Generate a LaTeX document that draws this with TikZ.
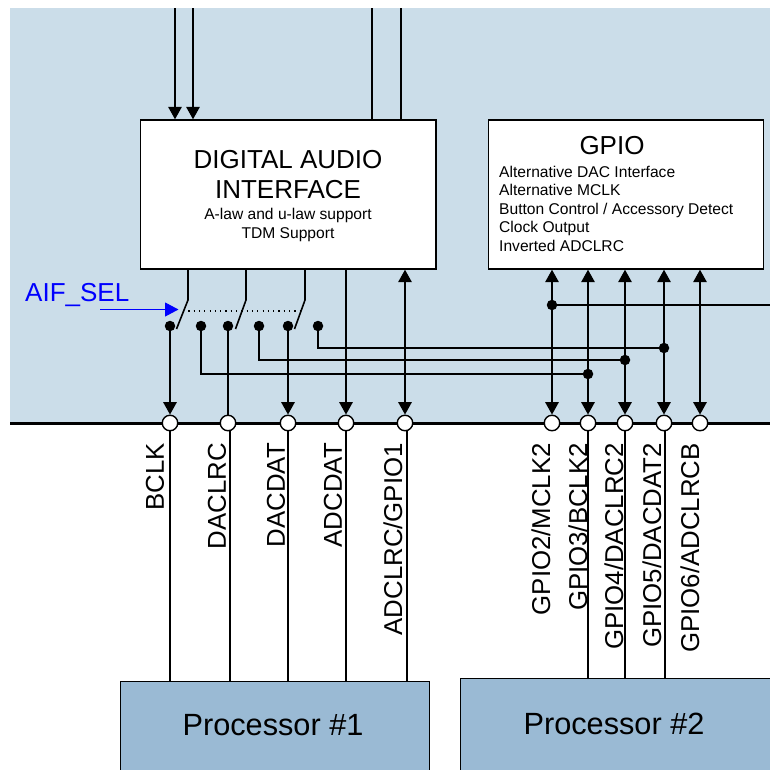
\documentclass[tikz,border=0pt]{standalone}
\usepackage{fontspec}
\setmainfont{Liberation Sans}
\usetikzlibrary{arrows.meta}
\definecolor{bgblue}{HTML}{CBDDE9}
\definecolor{procblue}{HTML}{9ABAD4}
\newcommand{\fs}[1]{\fontsize{#1pt}{#1pt}\selectfont}
\tikzset{
  wire/.style={line width=1.6pt,black},
  thinw/.style={line width=1.5pt,black},
  tip/.style={-{Triangle[length=12.5pt,width=13.5pt]}},
  tips/.style={{Triangle[length=12.5pt,width=13.5pt]}-{Triangle[length=12.5pt,width=13.5pt]}},
  blockbox/.style={draw=black,line width=1.4pt,fill=white,minimum height=149pt,inner sep=0pt},
  procbox/.style={draw=black,line width=1.3pt,fill=procblue,inner sep=0pt},
  pin/.style={circle,draw=black,line width=1.4pt,fill=white,minimum size=15.5pt,inner sep=0pt},
  dot/.style={circle,fill=black,minimum size=10.5pt,inner sep=0pt},
  pinlabel/.style={rotate=90,anchor=east,font=\fs{25.8},inner sep=0pt}
}
\begin{document}
\begin{tikzpicture}[x=1pt,y=-1pt]
\useasboundingbox (0,0) rectangle (770,769);
\fill[bgblue] (10,8) rectangle (770,423);
% blocks
\node[blockbox,minimum width=295.5pt] (dai) at (288.25,194.5) {};
\node[blockbox,minimum width=275pt] (gpio) at (626,194.5) {};
\node[font=\fs{26},align=center,inner sep=0pt] (daititle) at (288,175) {DIGITAL AUDIO\\[4pt]INTERFACE};
\node[font=\fs{15.6},align=center,inner sep=0pt] (daisub) at (288,225) {A-law and u-law support\\[3.6pt]TDM Support};
\node[font=\fs{26},inner sep=0pt] (gpiotitle) at (612,146) {GPIO};
\node[font=\fs{15.6},align=left,anchor=north west,inner sep=0pt] (gpiosub) at (499,165.5) {Alternative DAC Interface\\[3pt]Alternative MCLK\\[3pt]Button Control / Accessory Detect\\[3pt]Clock Output\\[3pt]Inverted ADCLRC};
% processors
\node[procbox,minimum width=309pt,minimum height=100pt,anchor=north west] (p1) at (120,681) {};
\node[procbox,minimum width=311pt,minimum height=103pt,anchor=north west] (p2) at (460,678) {};
\node[font=\fs{30.7},inner sep=0pt] (p1t) at (273,725) {Processor \#1};
\node[font=\fs{30.7},inner sep=0pt] (p2t) at (614,724) {Processor \#2};
% bus
\coordinate (busl) at (10,423);
\coordinate (busr) at (770,423);
\draw[line width=3pt] (busl) -- (busr);
% top connectors
\coordinate (t1) at (175,8);
\coordinate (t2) at (193,8);
\coordinate (t3) at (372,8);
\coordinate (t4) at (401,8);
\draw[wire,tip] (t1) -- (t1 |- dai.north);
\draw[wire,tip] (t2) -- (t2 |- dai.north);
\draw[wire] (t3) -- (t3 |- dai.north);
\draw[wire] (t4) -- (t4 |- dai.north);
% pins
\foreach \n/\x in {a/170,b/228,c/288,d/346,e/405,f/552,g/588,h/625,i/664,j/700}
  \node[pin] (\n) at (\x,423) {};
% lower wires
\draw[thinw] (a.south) -- (a.south |- p1.north);
\draw[thinw] (230,430.5) -- (230,681);
\draw[thinw] (c.south) -- (c.south |- p1.north);
\draw[thinw] (d.south) -- (d.south |- p1.north);
\draw[thinw] (407,430.5) -- (407,681);
\draw[thinw] (g.south) -- (g.south |- p2.north);
\draw[thinw] (h.south) -- (h.south |- p2.north);
\draw[thinw] (665,430.5) -- (665,678);
% switch contacts
\foreach \n/\x in {s1/170,s2/201,s3/228,s4/259,s5/288,s6/318}
  \node[dot] (\n) at (\x,326) {};
% switch arms
\draw[wire] (188,269) -- (188,300) -- (176.5,329);
\draw[wire] (246,269) -- (246,300) -- (235.5,329);
\draw[wire] (305,269) -- (305,300) -- (294.5,329);
\draw[line width=1.1pt,dash pattern=on 1.2pt off 4.1pt] (183,311) -- (301,311);
\node[font=\fs{26},text=blue,inner sep=0pt,anchor=west] (sel) at (25,295) {AIF\_SEL};
\coordinate (selstart) at (100,309.5);
\coordinate (selend) at (178.5,309.5);
\draw[line width=1pt,blue,-{Triangle[length=13.5pt,width=14pt]}] (selstart) -- (selend);
% bus-side junctions
\node[dot] (j1) at (588,374) {};
\node[dot] (j2) at (625,360) {};
\node[dot] (j3) at (664,348) {};
\node[dot] (j4) at (552,305) {};
\coordinate (rr) at (770,305);
\draw[thinw] (s2.center) |- (j1.center);
\draw[thinw] (s4.center) |- (j2.center);
\draw[thinw] (s6.center) |- (j3.center);
\draw[thinw] (j4.center) -- (rr);
% vertical arrows
\draw[wire,tip] (s1.center) -- (a.north);
\draw[wire] (s3.center) -- (b.north);
\draw[wire,tip] (s5.center) -- (c.north);
\draw[wire,tip] (d|-dai.south) -- (d.north);
\draw[wire,tips] (e|-dai.south) -- (e.north);
\foreach \n in {f,g,h,i,j} \draw[wire,tips] (\n|-gpio.south) -- (\n.north);
% labels
\node[pinlabel] (l1) at (155,443) {BCLK};
\node[pinlabel] (l2) at (217,443) {DACLRC};
\node[pinlabel] (l3) at (276,443) {DACDAT};
\node[pinlabel] (l4) at (333,443) {ADCDAT};
\node[pinlabel] (l5) at (393,443) {ADCLRC/GPIO1};
\node[pinlabel] (l6) at (541,443) {GPIO2/MCLK2};
\node[pinlabel] (l7) at (578,443) {GPIO3/BCLK2};
\node[pinlabel] (l8) at (614,443) {GPIO4/DACLRC2};
\node[pinlabel] (l9) at (652,443) {GPIO5/DACDAT2};
\node[pinlabel] (l10) at (690,443) {GPIO6/ADCLRCB};
\end{tikzpicture}
\end{document}
